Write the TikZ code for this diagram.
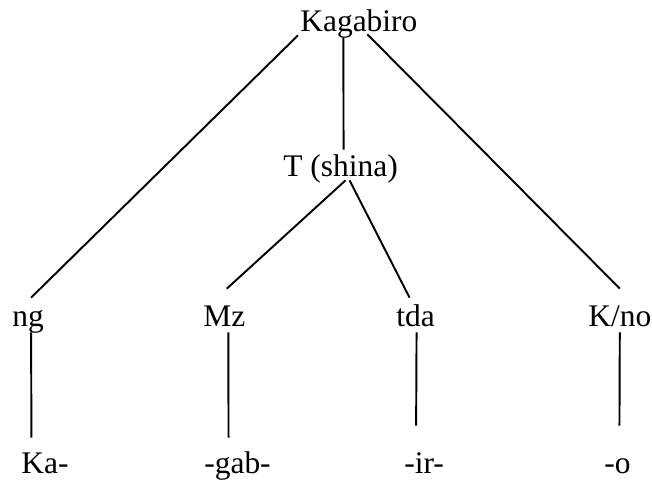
\documentclass[tikz,border=0pt]{standalone}
\usepackage{fontspec}
\setmainfont{Liberation Serif}

\begin{document}
\begin{tikzpicture}[
    word/.style={inner sep=0pt, anchor=base west, text height=0.44cm, text depth=0.16cm,
                 font=\fontsize{17.9}{20}\selectfont},
    branch/.style={line width=1.1pt}]
    %% define rows
    \def\Ri{8.98};
    \def\Rii{6.08};
    \def\Riii{3.08};
    \def\Riv{0.14};

    \useasboundingbox (0,0) rectangle (13.04,9.62);

    %% words of the tree
    \node[word] (kag) at (6.00,\Ri) {Kagabiro};
    \node[word] (shina) at (5.66,\Rii) {T (shina)};

    \node[word] (ng) at (0.24,\Riii) {ng};
    \node[word] (mz) at (4.06,\Riii) {Mz};
    \node[word] (tda) at (7.92,\Riii) {tda};
    \node[word] (kno) at (11.76,\Riii) {K/no};

    \node[word] (ka) at (0.42,\Riv) {Ka-};
    \node[word] (gab) at (4.08,\Riv) {-gab-};
    \node[word] (ir) at (8.08,\Riv) {-ir-};
    \node[word] (o) at (12.08,\Riv) {-o};

    %% branches from the top
    \draw[branch] ([shift={(-0.04,0.10)}]kag.south west) -- ([shift={(0.06,0.14)}]ng.north);
    \draw[branch] ([shift={(-0.31,0.06)}]kag.south) -- ([shift={(0.06,0.10)}]shina.north);
    \draw[branch] ([shift={(0.17,0.12)}]kag.south) -- ([shift={(0,0.32)}]kno.north);

    %% branches from T (shina)
    \draw[branch] ([shift={(0.10,0.10)}]shina.south) -- ([shift={(0.05,0.32)}]mz.north);
    \draw[branch] ([shift={(0.18,0.10)}]shina.south) -- ([shift={(-0.12,0.14)}]tda.north);

    %% down to the morphemes
    \draw[branch] ([shift={(0.06,0.06)}]ng.south) -- ([shift={(-0.27,0.28)}]ka.north);
    \draw[branch] ([shift={(0.08,0.06)}]mz.south) -- ([shift={(-0.18,0.28)}]gab.north);
    \draw[branch] ([shift={(0.02,0.06)}]tda.south) -- ([shift={(-0.16,0.52)}]ir.north);
    \draw[branch] ([shift={(0,0.06)}]kno.south) -- ([shift={(0.04,0.52)}]o.north);
\end{tikzpicture}
\end{document}
